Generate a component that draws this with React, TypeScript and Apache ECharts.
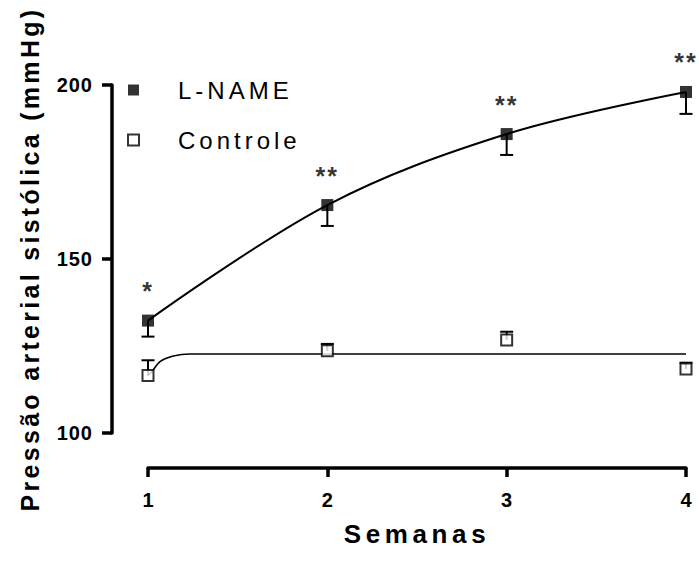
import React, { useEffect, useRef } from "react";
import * as echarts from "echarts";

// ---- data ----
const weeks = [1, 2, 3, 4];
const weekTicks = ["1", "2", "3", "4"];
const yTicks = [100, 150, 200];

const lnameMean = [132.3, 165.5, 185.9, 198.0];
const lnameLower = [127.7, 159.5, 179.9, 191.7];
const lnameSig = ["*", "**", "**", "**"];

const controleMean = [116.5, 123.6, 126.7, 118.4];
const controleUpper = [120.9, 125.6, 129.1, 120.2];

// fitted plateau curve for Controle
const controleFitX = [1, 1.021, 1.067, 1.141, 1.234, 1.363, 4];
const controleFitY = [116.5, 117.6, 120.5, 122.1, 122.7, 122.7, 122.7];

const FONT = "'Liberation Sans', Arial, Helvetica, sans-serif";

const css = `
text[style*="lsA"]{letter-spacing:3.3px}
text[style*="lsB"]{letter-spacing:4.6px}
text[style*="lsC"]{letter-spacing:4px}
text[style*="lsD"]{letter-spacing:1px}
text[style*="lsE"]{letter-spacing:2px}
`;

function errorBarSeries(name: string, data: number[][]) {
  return {
    type: "custom",
    name,
    z: 3,
    silent: true,
    clip: false,
    data,
    renderItem: (_params: any, api: any) => {
      const x = api.value(0);
      const y = api.value(1);
      const e = api.value(2);
      const p0 = api.coord([x, y]);
      const p1 = api.coord([x, e]);
      const hw = 6.5;
      return {
        type: "group",
        children: [
          {
            type: "line",
            shape: { x1: p0[0], y1: p0[1], x2: p1[0], y2: p1[1] },
            style: { stroke: "#000", lineWidth: 2 },
          },
          {
            type: "line",
            shape: { x1: p1[0] - hw, y1: p1[1], x2: p1[0] + hw, y2: p1[1] },
            style: { stroke: "#000", lineWidth: 2 },
          },
        ],
      };
    },
  };
}

export default function App() {
  const ref = useRef<HTMLDivElement>(null);
  useEffect(() => {
    if (!ref.current) return;
    const chart = echarts.init(ref.current, undefined, { renderer: "svg" });
    const lnamePts = weeks.map((w, i) => [w, lnameMean[i]]);
    const ctrlPts = weeks.map((w, i) => [w, controleMean[i]]);
    chart.setOption({
      animation: false,
      backgroundColor: "#fff",
      grid: { left: 148, right: 13, top: 85, bottom: 131 },
      legend: {
        orient: "vertical",
        left: 122,
        top: 73,
        itemGap: 26,
        itemWidth: 11,
        itemHeight: 11,
        icon: "rect",
        textStyle: {
          fontFamily: FONT + ", lsC",
          fontSize: 24,
          color: "#000",
          padding: [0, 0, 0, 34],
        },
        data: [
          { name: "L-NAME", itemStyle: { color: "#000" } },
          {
            name: "Controle",
            itemStyle: { color: "#fff", borderColor: "#000", borderWidth: 2 },
          },
        ],
      },
      xAxis: {
        type: "value",
        min: 1,
        max: 4,
        interval: 1,
        offset: 35,
        name: "Semanas",
        nameLocation: "middle",
        nameGap: 53,
        nameTextStyle: {
          fontFamily: FONT + ", lsB",
          fontSize: 26,
          fontWeight: "bold",
          color: "#000",
        },
        axisLine: { show: true, lineStyle: { color: "#000", width: 3.5 } },
        axisTick: { show: true, length: 9, lineStyle: { color: "#000", width: 3.5 } },
        splitLine: { show: false },
        axisLabel: {
          margin: 22,
          fontFamily: FONT,
          fontSize: 20,
          fontWeight: "bold",
          color: "#000",
          formatter: (v: number) => weekTicks[weeks.indexOf(v)] ?? "",
        },
      },
      yAxis: {
        type: "value",
        min: yTicks[0],
        max: yTicks[yTicks.length - 1],
        interval: yTicks[1] - yTicks[0],
        offset: 36,
        name: "Pressão arterial sistólica (mmHg)",
        nameLocation: "middle",
        nameGap: 70,
        nameTextStyle: {
          fontFamily: FONT + ", lsA",
          fontSize: 25,
          fontWeight: "bold",
          color: "#000",
        },
        axisLine: { show: true, lineStyle: { color: "#000", width: 3.5 } },
        axisTick: { show: true, length: 10, lineStyle: { color: "#000", width: 3.5 } },
        splitLine: { show: false },
        axisLabel: {
          margin: 19,
          fontFamily: FONT + ", lsD",
          fontSize: 20,
          fontWeight: "bold",
          color: "#000",
        },
      },
      series: [
        {
          type: "line",
          name: "L-NAME fit",
          data: lnamePts,
          smooth: 0.35,
          symbol: "none",
          clip: false,
          z: 2,
          silent: true,
          lineStyle: { color: "#000", width: 2 },
        },
        {
          type: "line",
          name: "Controle fit",
          data: controleFitX.map((x, i) => [x, controleFitY[i]]),
          smooth: 0.3,
          symbol: "none",
          clip: false,
          z: 2,
          silent: true,
          lineStyle: { color: "#000", width: 1.6 },
        },
        errorBarSeries(
          "L-NAME err",
          weeks.map((w, i) => [w, lnameMean[i], lnameLower[i]])
        ),
        errorBarSeries(
          "Controle err",
          weeks.map((w, i) => [w, controleMean[i], controleUpper[i]])
        ),
        {
          type: "scatter",
          name: "L-NAME",
          data: lnamePts,
          symbol: "rect",
          symbolSize: 12,
          clip: false,
          z: 4,
          itemStyle: { color: "#000" },
          label: {
            show: true,
            position: "top",
            distance: 11,
            fontFamily: FONT + ", lsE",
            fontSize: 25,
            fontWeight: "bold",
            color: "#000",
            formatter: (p: any) => lnameSig[p.dataIndex],
          },
        },
        {
          type: "scatter",
          name: "Controle",
          data: ctrlPts,
          symbol: "rect",
          symbolSize: 11,
          clip: false,
          z: 4,
          itemStyle: { color: "#fff", borderColor: "#000", borderWidth: 2 },
        },
      ],
    });
    return () => chart.dispose();
  }, []);
  return (
    <>
      <style>{css}</style>
      <div
        ref={ref}
        style={{ position: "fixed", left: 0, top: 0, width: 699, height: 564 }}
      />
    </>
  );
}
